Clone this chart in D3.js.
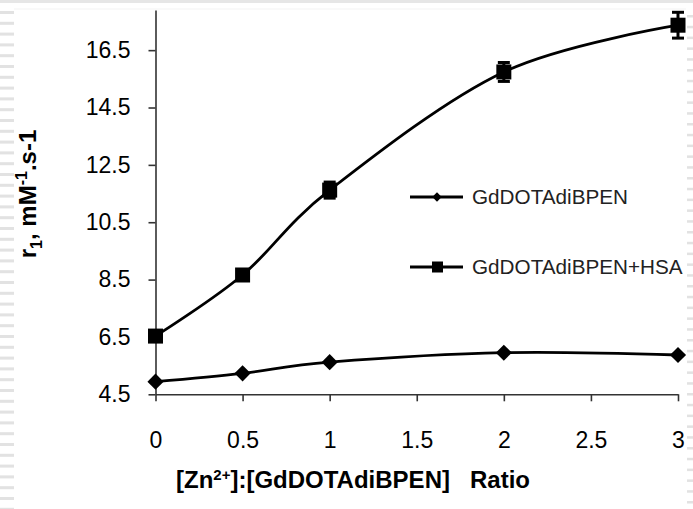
<!DOCTYPE html>
<html>
<head>
<meta charset="utf-8">
<script src="https://cdn.jsdelivr.net/npm/d3@7"></script>
<style>
  body { margin: 0; background: #fff; }
  svg { display: block; font-family: "Liberation Sans", Arial, sans-serif; }
  .axis path, .axis line { stroke: #333; stroke-width: 1.6; }
  .axis text { fill: #000; }
</style>
</head>
<body>
<svg id="chart"></svg>
<script>
// values
const ratios = [0, 0.5, 1, 2, 3];
const r1Free = [4.94, 5.23, 5.62, 5.95, 5.87];
const r1HSA = [6.53, 8.66, 11.62, 15.74, 17.37];
const r1HSAErr = [0.1, 0.15, 0.28, 0.33, 0.45];
const xTicks = [0, 0.5, 1, 1.5, 2, 2.5, 3];
const yTicks = [4.5, 6.5, 8.5, 10.5, 12.5, 14.5, 16.5];
const seriesNames = ["GdDOTAdiBPEN", "GdDOTAdiBPEN+HSA"];

let width = 693, height = 509;

let svg = d3.select("#chart")
  .attr("width", width)
  .attr("height", height);

// page decoration (paper edge)
svg.append("rect").attr("x", 0).attr("y", 0).attr("width", width).attr("height", 3).attr("fill", "#e6e6e6");
svg.append("line").attr("x1", 14).attr("x2", 686).attr("y1", 9).attr("y2", 9)
  .attr("stroke", "#f3f3f3").attr("stroke-width", 1);
let dashY = d3.range(11, height, 10.8);
svg.selectAll(".dashL").data(dashY).enter().append("rect")
  .attr("x", 0).attr("y", d => d).attr("width", 14).attr("height", 3).attr("fill", "#e2e2e2");
svg.selectAll(".dashR").data(dashY).enter().append("rect")
  .attr("x", 687).attr("y", d => d + 4).attr("width", 6).attr("height", 2.5).attr("fill", "#e2e2e2");

let x = d3.scaleLinear().domain([0, 3]).range([155.5, 678]);
let y = d3.scaleLinear().domain([4.5, 17.9]).range([394.3, 10]);

// axes
let yAxis = svg.append("g")
  .attr("class", "axis")
  .attr("transform", "translate(155.5,0)")
  .call(d3.axisLeft(y).tickValues(yTicks).tickSize(7).tickSizeOuter(0).tickPadding(18)
    .tickFormat(d3.format(".1f")));
yAxis.selectAll("text").style("font-size", "23px");

let xAxis = svg.append("g")
  .attr("class", "axis")
  .attr("transform", "translate(0,394.3)")
  .call(d3.axisBottom(x).tickValues(xTicks).tickSize(7).tickSizeOuter(0).tickPadding(30)
    .tickFormat(d3.format("")));
xAxis.selectAll("text").style("font-size", "23px");

// axis titles
let yTitle = svg.append("text")
  .attr("transform", "translate(36,194) rotate(-90)")
  .attr("text-anchor", "middle")
  .style("font-size", "24px")
  .style("font-weight", "bold");
yTitle.append("tspan").text("r");
yTitle.append("tspan").attr("dy", 6).style("font-size", "16px").text("1");
yTitle.append("tspan").attr("dy", -6).text(", mM");
yTitle.append("tspan").attr("dy", -9).style("font-size", "16px").text("-1");
yTitle.append("tspan").attr("dy", 9).text(".s-1");

let xTitle = svg.append("text")
  .attr("x", 353)
  .attr("y", 488)
  .attr("text-anchor", "middle")
  .style("font-size", "24px")
  .style("font-weight", "bold");
xTitle.append("tspan").text("[Zn");
xTitle.append("tspan").attr("dy", -8).style("font-size", "15px").text("2+");
xTitle.append("tspan").attr("dy", 8).text("]:[GdDOTAdiBPEN]\u00a0\u00a0\u00a0Ratio");

// lines
let line = d3.line()
  .x(d => x(d[0]))
  .y(d => y(d[1]))
  .curve(d3.curveCatmullRom.alpha(0));

let freeData = ratios.map((r, i) => [r, r1Free[i]]);
let hsaData = ratios.map((r, i) => [r, r1HSA[i], r1HSAErr[i]]);

svg.append("path").datum(freeData)
  .attr("d", line).attr("fill", "none").attr("stroke", "#000").attr("stroke-width", 2.8);
svg.append("path").datum(hsaData)
  .attr("d", line).attr("fill", "none").attr("stroke", "#000").attr("stroke-width", 2.8);

// error bars on HSA series
let err = svg.selectAll(".err").data(hsaData).enter().append("g").attr("class", "err");
err.append("line")
  .attr("x1", d => x(d[0])).attr("x2", d => x(d[0]))
  .attr("y1", d => y(d[1] - d[2])).attr("y2", d => y(d[1] + d[2]))
  .attr("stroke", "#000").attr("stroke-width", 3);
err.selectAll(".cap").data(d => [[d[0], d[1] - d[2]], [d[0], d[1] + d[2]]]).enter().append("line")
  .attr("x1", d => x(d[0]) - 6).attr("x2", d => x(d[0]) + 6)
  .attr("y1", d => y(d[1])).attr("y2", d => y(d[1]))
  .attr("stroke", "#000").attr("stroke-width", 3);

// markers
svg.selectAll(".dia").data(freeData).enter().append("path")
  .attr("transform", d => "translate(" + x(d[0]) + "," + y(d[1]) + ") rotate(45)")
  .attr("d", d3.symbol().type(d3.symbolSquare).size(130))
  .attr("fill", "#000");
svg.selectAll(".sq").data(hsaData).enter().append("rect")
  .attr("x", d => x(d[0]) - 7.5).attr("y", d => y(d[1]) - 7.5)
  .attr("width", 15).attr("height", 15)
  .attr("fill", "#000");

// legend
let legend = svg.append("g").attr("transform", "translate(410,197)");
let rows = legend.selectAll(".row").data(seriesNames).enter().append("g")
  .attr("transform", (d, i) => "translate(0," + i * 70 + ")");
rows.append("line").attr("x1", 0).attr("x2", 53).attr("y1", 0).attr("y2", 0)
  .attr("stroke", "#000").attr("stroke-width", 2.8);
rows.filter((d, i) => i === 0).append("path")
  .attr("transform", "translate(27,0) rotate(45)")
  .attr("d", d3.symbol().type(d3.symbolSquare).size(44))
  .attr("fill", "#000");
rows.filter((d, i) => i === 1).append("rect")
  .attr("x", 22).attr("y", -5.5).attr("width", 11).attr("height", 11).attr("fill", "#000");
rows.append("text")
  .attr("x", 62).attr("y", 0).attr("dy", "0.36em")
  .style("font-size", "20.7px").attr("fill", "#222")
  .text(d => d);
</script>
</body>
</html>
